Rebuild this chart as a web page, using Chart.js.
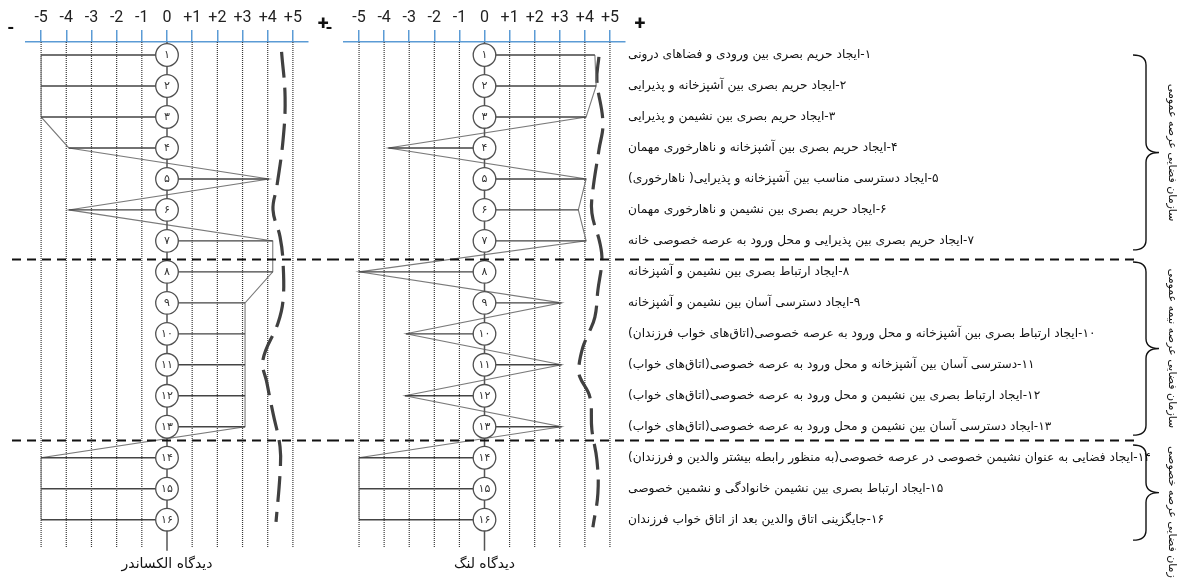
<!DOCTYPE html>
<html>
<head>
<meta charset="utf-8">
<script src="https://cdn.jsdelivr.net/npm/chart.js@4.4.1/dist/chart.umd.min.js"></script>
<style>
  html, body { margin: 0; padding: 0; background: #fff; overflow: hidden; }
  #wrap { position: relative; width: 1187px; height: 578px; }
  canvas { position: absolute; top: 0; }
</style>
</head>
<body>
<div id="wrap">
  <canvas id="cL" width="340" height="578" style="left:0px"></canvas>
  <canvas id="cR" width="862" height="578" style="left:325px"></canvas>
</div>
<script>
// ---------------- DATA ----------------
const tickValues = [-5, -4, -3, -2, -1, 0, 1, 2, 3, 4, 5];
const tickLabels = ['-5', '-4', '-3', '-2', '-1', '0', '+1', '+2', '+3', '+4', '+5'];

const itemNumbers = ['۱','۲','۳','۴','۵','۶','۷','۸','۹','۱۰','۱۱','۱۲','۱۳','۱۴','۱۵','۱۶'];
const itemLabels = [
  '۱-ایجاد حریم بصری بین ورودی و فضاهای درونی',
  '۲-ایجاد حریم بصری بین آشپزخانه و پذیرایی',
  '۳-ایجاد حریم بصری بین نشیمن و پذیرایی',
  '۴-ایجاد حریم بصری بین آشپزخانه و ناهارخوری مهمان',
  '۵-ایجاد دسترسی مناسب بین آشپزخانه و پذیرایی( ناهارخوری)',
  '۶-ایجاد حریم بصری بین نشیمن و ناهارخوری مهمان',
  '۷-ایجاد حریم بصری بین پذیرایی و محل ورود به عرصه خصوصی خانه',
  '۸-ایجاد ارتباط بصری بین نشیمن و آشپزخانه',
  '۹-ایجاد دسترسی آسان بین نشیمن و آشپزخانه',
  '۱۰-ایجاد ارتباط بصری بین آشپزخانه و محل ورود به عرصه خصوصی(اتاق‌های خواب فرزندان)',
  '۱۱-دسترسی آسان بین آشپزخانه و محل ورود به عرصه خصوصی(اتاق‌های خواب)',
  '۱۲-ایجاد ارتباط بصری بین نشیمن و محل ورود به عرصه خصوصی(اتاق‌های خواب)',
  '۱۳-ایجاد دسترسی آسان بین نشیمن و محل ورود به عرصه خصوصی(اتاق‌های خواب)',
  '۱۴-ایجاد فضایی به عنوان نشیمن خصوصی در عرصه خصوصی(به منظور رابطه بیشتر والدین و فرزندان)',
  '۱۵-ایجاد ارتباط بصری بین نشیمن خانوادگی و نشمین خصوصی',
  '۱۶-جایگزینی اتاق والدین بعد از اتاق خواب فرزندان'
];

// Alexander view (left panel) and Lang view (right panel), one value per item
const alexanderValues = [-5, -5, -5, -3.9, 4.05, -3.9, 4.2, 4.2, 3.1, 3.1, 3.1, 3.1, 3.1, -5, -5, -5];
const langValues      = [4.4, 4.45, 4.05, -3.83, 4.05, 3.74, 4.05, -5, 3.07, -3.13, 3.07, -3.17, 3.07, -5, -5, -5];

// dashed reference curves (value, item position)
const alexanderDashX = [4.55, 4.69, 4.61, 4.36, 4.21, 4.49, 4.61, 4.61, 4.41, 3.81, 3.97, 4.21, 4.49, 4.49, 4.33];
const alexanderDashY = [0.9, 2.36, 3.74, 5.26, 6.0, 6.87, 7.71, 8.91, 9.65, 10.84, 11.59, 12.56, 13.65, 14.49, 16.07];
const langDashX = [4.56, 4.48, 4.72, 4.56, 4.32, 4.28, 4.6, 4.68, 4.52, 4.4, 4.12, 3.92, 3.76, 3.8, 4.2, 4.28, 4.48, 4.52, 4.32];
const langDashY = [1.06, 1.81, 3.19, 4.07, 5.36, 6.1, 7.07, 7.62, 8.59, 9.46, 10.04, 10.43, 11.07, 11.39, 12.04, 13.1, 14.07, 15.14, 16.24];

const panelTitles = ['دیدگاه الکساندر', 'دیدگاه لنگ'];
const groupBreaks = [7.585, 13.43];
const groupLabels = ['سازمان فضایی عرصه عمومی', 'سازمان فضایی عرصه نیمه عمومی', 'سازمان فضایی عرصه خصوصی'];
const braceFrom = [1.0, 7.68, 13.59];
const braceTo   = [7.29, 13.27, 16.66];
const groupLabelCenter = [4.15, 10.47, 15.95];

// ---------------- CONFIG ----------------
const Y_MIN = 0.58, Y_MAX = 17.01;
const GRID_TOP = 0.58, GRID_BOTTOM = 16.9;
const CENTER_TOP = 0.58, CENTER_BOTTOM = 17.0;
const END_MARK = 6.2;
const BLUE = '#5b9bd5';
const PERSIAN_FONT = '"DejaVu Sans", "Noto Sans", sans-serif';

function gridData() {
  const d = [];
  tickValues.forEach(v => {
    if (v !== 0) d.push({x: v, y: GRID_TOP}, {x: v, y: GRID_BOTTOM}, {x: null, y: null});
  });
  return d;
}

function buildDatasets(values, dashX, dashY) {
  return [
    { // circles
      data: values.map((_, i) => ({x: 0, y: i + 1})),
      showLine: false, pointRadius: 11.3, pointHoverRadius: 11.3,
      pointBackgroundColor: '#fff', pointBorderColor: '#505050', pointBorderWidth: 1.3, order: 0
    },
    { // center axis
      data: [{x: 0, y: CENTER_TOP}, {x: 0, y: CENTER_BOTTOM}],
      borderColor: '#555', borderWidth: 1.5, pointRadius: 0, order: 1
    },
    { // horizontal connectors
      data: values.flatMap((v, i) => [{x: 0, y: i + 1}, {x: v, y: i + 1}, {x: null, y: null}]),
      borderColor: '#444', borderWidth: 1.4, pointRadius: 0, order: 2
    },
    { // profile
      data: values.map((v, i) => ({x: v, y: i + 1})),
      borderColor: '#7a7a7a', borderWidth: 1.1, pointRadius: 0, order: 3
    },
    { // dashed curve
      data: dashX.map((v, i) => ({x: v, y: dashY[i]})),
      borderColor: '#404040', borderWidth: 3.2, borderDash: [26, 10], tension: 0.4,
      pointRadius: 0, order: 4
    },
    { // dotted verticals
      data: gridData(),
      borderColor: '#3a3a3a', borderWidth: 1.2, borderDash: [1, 1], pointRadius: 0, order: 5
    }
  ];
}

function xScale() {
  return {
    type: 'linear', position: 'top', min: -5.6, max: 5.6,
    afterBuildTicks: s => { s.ticks = tickValues.map(v => ({value: v})); },
    afterFit: s => { s.height = 42; },
    ticks: {
      callback: v => tickLabels[tickValues.indexOf(v)],
      font: {family: 'Roboto', size: 16}, color: '#222', padding: 2,
      maxRotation: 0, autoSkip: false
    },
    grid: { drawOnChartArea: false, drawTicks: true, tickLength: 12,
            tickColor: BLUE, tickWidth: 1.5, color: BLUE, lineWidth: 1.5 },
    border: { display: true, color: BLUE, width: 1.5 }
  };
}

function decorPlugin(opt) {
  return {
    id: 'decor' + opt.key,
    afterDatasetsDraw(chart) {
      const {ctx, chartArea, scales: {x, y}} = chart;
      ctx.save();
      // group separators
      ctx.setLineDash([9, 6]);
      ctx.lineWidth = 2.2;
      ctx.strokeStyle = '#111';
      groupBreaks.forEach(b => {
        const py = Math.round(y.getPixelForValue(b)) + 0.5;
        ctx.beginPath(); ctx.moveTo(opt.sepFrom, py); ctx.lineTo(opt.sepTo, py); ctx.stroke();
      });
      ctx.setLineDash([]);
      // circle numbers
      ctx.fillStyle = '#333';
      ctx.textAlign = 'center';
      ctx.textBaseline = 'middle';
      ctx.font = '11px ' + PERSIAN_FONT;
      const cx = x.getPixelForValue(0);
      itemNumbers.forEach((n, i) => ctx.fillText(n, cx, y.getPixelForValue(i + 1) + 0.5));
      // end marks
      ctx.fillStyle = '#111';
      ctx.font = 'bold 20px Roboto';
      ctx.fillText('+', x.getPixelForValue(END_MARK), chartArea.top - 17);
      ctx.font = 'bold 18px Roboto';
      ctx.fillText('-', x.getPixelForValue(-END_MARK), chartArea.top - 13);
      // title under the axis
      ctx.font = '14px ' + PERSIAN_FONT;
      ctx.fillStyle = '#111';
      ctx.fillText(opt.title, cx, chartArea.bottom + 13);
      // braces + group labels
      if (opt.braces) {
        ctx.strokeStyle = '#111';
        ctx.lineWidth = 1.4;
        braceFrom.forEach((f, i) => {
          const yT = y.getPixelForValue(f), yB = y.getPixelForValue(braceTo[i]);
          const yM = (yT + yB) / 2, r = 10;
          const x0 = opt.braceX0, xm = opt.braceXm, xt = opt.braceXt;
          ctx.beginPath();
          ctx.moveTo(x0, yT);
          ctx.quadraticCurveTo(xm, yT, xm, yT + r);
          ctx.lineTo(xm, yM - r);
          ctx.quadraticCurveTo(xm, yM, xt, yM);
          ctx.quadraticCurveTo(xm, yM, xm, yM + r);
          ctx.lineTo(xm, yB - r);
          ctx.quadraticCurveTo(xm, yB, x0, yB);
          ctx.stroke();
          ctx.save();
          ctx.translate(opt.labelX, y.getPixelForValue(groupLabelCenter[i]));
          ctx.rotate(Math.PI / 2);
          ctx.font = '11px ' + PERSIAN_FONT;
          ctx.textAlign = 'center';
          ctx.textBaseline = 'middle';
          ctx.fillStyle = '#111';
          ctx.fillText(groupLabels[i], 0, 0);
          ctx.restore();
        });
      }
      ctx.restore();
    }
  };
}

const common = {
  responsive: false, animation: false, devicePixelRatio: 1, events: [],
  plugins: { legend: { display: false }, tooltip: { enabled: false } }
};

new Chart(document.getElementById('cL'), {
  type: 'line',
  data: { datasets: buildDatasets(alexanderValues, alexanderDashX, alexanderDashY) },
  options: Object.assign({}, common, {
    layout: { padding: { left: 26, right: 32, top: 0, bottom: 27 } },
    scales: {
      x: xScale(),
      y: { type: 'linear', display: false, reverse: true, min: Y_MIN, max: Y_MAX }
    }
  }),
  plugins: [decorPlugin({ key: 'L', sepFrom: 12, sepTo: 330, title: panelTitles[0], braces: false })]
});

new Chart(document.getElementById('cR'), {
  type: 'line',
  data: { datasets: buildDatasets(langValues, langDashX, langDashY) },
  options: Object.assign({}, common, {
    layout: { padding: { left: 19, right: 0, top: 0, bottom: 27 } },
    scales: {
      x: xScale(),
      y: {
        type: 'linear', position: 'right', reverse: true, min: Y_MIN, max: Y_MAX,
        afterBuildTicks: s => { s.ticks = itemLabels.map((_, i) => ({value: i + 1})); },
        afterFit: s => { s.width = 562; },
        ticks: {
          callback: v => '\u202B' + itemLabels[v - 1] + '\u202C',
          font: { family: PERSIAN_FONT, size: 12.2 }, color: '#111', padding: 3, autoSkip: false
        },
        grid: { display: false, drawTicks: false },
        border: { display: false }
      }
    }
  }),
  plugins: [decorPlugin({ key: 'R', sepFrom: 5, sepTo: 810, title: panelTitles[1], braces: true,
    braceX0: 808, braceXm: 821, braceXt: 834, labelX: 847 })]
});
</script>
</body>
</html>
